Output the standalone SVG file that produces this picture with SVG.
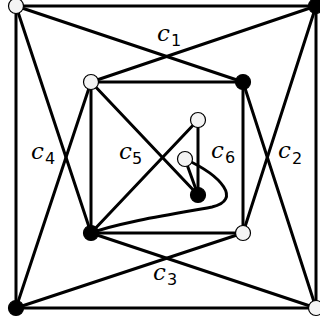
<svg xmlns="http://www.w3.org/2000/svg" width="320" height="326" viewBox="0 0 320 326">
<style>
.e{stroke:#000;stroke-width:3;fill:none;stroke-linecap:round}
.w{fill:#f4f4f4;stroke:#000;stroke-width:1.2}
.b{fill:#000;stroke:#000;stroke-width:1.2}
.c{font-family:"DejaVu Serif","Liberation Serif",serif;font-style:italic;font-size:23px;fill:#000}
.s{font-family:"DejaVu Sans","Liberation Sans",sans-serif;font-size:16px;fill:#000}
</style>
<rect width="320" height="326" fill="#fff"/>
<g id="edges">
<rect class="e" x="16" y="6" width="300" height="302"/>
<rect class="e" x="91" y="82" width="152" height="151"/>
<line class="e" x1="16" y1="6" x2="243" y2="82"/>
<line class="e" x1="316" y1="6" x2="91" y2="82"/>
<line class="e" x1="16" y1="6" x2="91" y2="233"/>
<line class="e" x1="16" y1="308" x2="91" y2="82"/>
<line class="e" x1="316" y1="6" x2="243" y2="233"/>
<line class="e" x1="316" y1="308" x2="243" y2="82"/>
<line class="e" x1="16" y1="308" x2="243" y2="233"/>
<line class="e" x1="316" y1="308" x2="91" y2="233"/>
<line class="e" x1="91" y1="82" x2="198" y2="195"/>
<line class="e" x1="91" y1="233" x2="198" y2="120"/>
<line class="e" x1="198" y1="120" x2="198" y2="195"/>
<line class="e" x1="185" y1="159" x2="198" y2="195"/>
<path class="e" d="M185,159 C222,176 242,200 212,207 C175,214 120,222 91,233"/>
</g>
<g id="n_tl"><circle class="w" cx="16" cy="6" r="7.5"/></g>
<g id="n_tr"><circle class="b" cx="316" cy="6" r="7.5"/></g>
<g id="n_bl"><circle class="b" cx="16" cy="308" r="7.5"/></g>
<g id="n_br"><circle class="w" cx="316" cy="308" r="7.5"/></g>
<g id="n_itl"><circle class="w" cx="91" cy="82" r="7.5"/></g>
<g id="n_itr"><circle class="b" cx="243" cy="82" r="7.5"/></g>
<g id="n_ibl"><circle class="b" cx="91" cy="233" r="7.5"/></g>
<g id="n_ibr"><circle class="w" cx="243" cy="233" r="7.5"/></g>
<g id="n_a"><circle class="w" cx="198" cy="120" r="7.5"/></g>
<g id="n_b"><circle class="w" cx="185" cy="159" r="7.5"/></g>
<g id="n_c"><circle class="b" cx="198" cy="195" r="7.5"/></g>
<g id="labels">
<text class="c" x="157" y="41">c</text><text class="s" x="171" y="46">1</text>
<text class="c" x="31" y="159">c</text><text class="s" x="45" y="164">4</text>
<text class="c" x="119" y="159">c</text><text class="s" x="132" y="164">5</text>
<text class="c" x="211" y="158">c</text><text class="s" x="225" y="163">6</text>
<text class="c" x="278" y="158">c</text><text class="s" x="292" y="164">2</text>
<text class="c" x="153" y="280">c</text><text class="s" x="167" y="285">3</text>
</g>
</svg>
